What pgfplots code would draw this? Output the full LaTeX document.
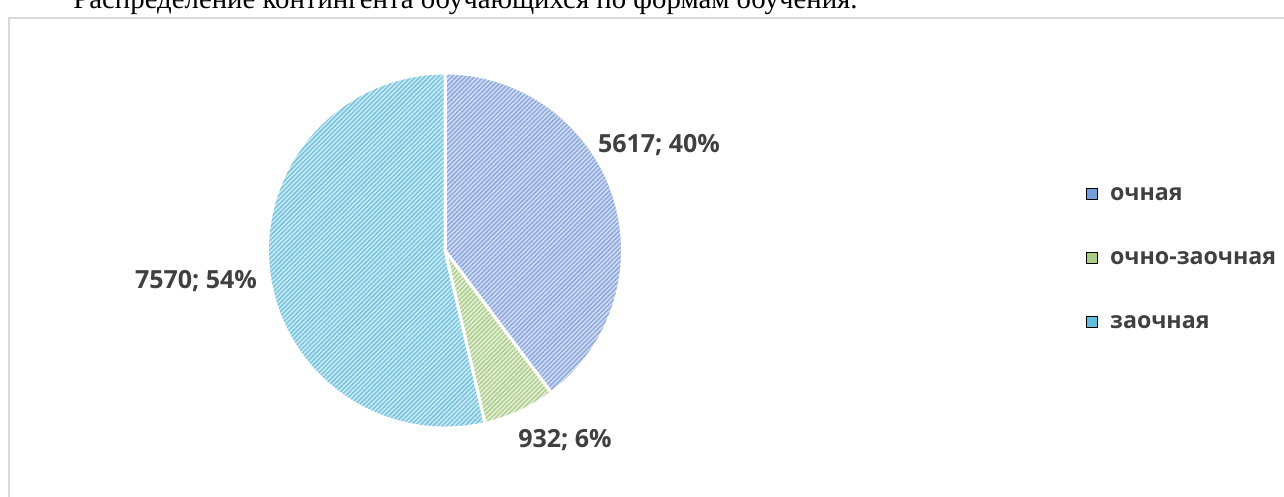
\documentclass[border=0pt]{standalone}
\usepackage{fontspec}
\setmainfont{Open Sans}
\newfontfamily\titlefont{Liberation Serif}
\usepackage{pgfplots}
\pgfplotsset{compat=1.18}
\usepackage{pgfplotstable}
\usetikzlibrary{patterns.meta}

\definecolor{bluebg}{HTML}{D0DCF3}
\definecolor{blueln}{HTML}{90AADB}
\definecolor{greenbg}{HTML}{E4EFD8}
\definecolor{greenln}{HTML}{AECF8F}
\definecolor{cyanbg}{HTML}{CAEAF4}
\definecolor{cyanln}{HTML}{78C5DD}
\definecolor{legblue}{HTML}{759FDA}
\definecolor{leggreen}{HTML}{A9CD82}
\definecolor{legcyan}{HTML}{62BFDC}
\definecolor{labelgray}{HTML}{404040}
\definecolor{framegray}{HTML}{D9D9D9}

\pgfplotstableread{
id value
1 5617
2 932
3 7570
}\pietable

\begin{document}
\begin{tikzpicture}
\useasboundingbox (0,0) rectangle (642pt,248.5pt);
\clip (0,0) rectangle (642pt,248.5pt);
\pgfplotstablegetelem{0}{value}\of\pietable\pgfmathsetmacro\va{\pgfplotsretval/1000}
\pgfplotstablegetelem{1}{value}\of\pietable\pgfmathsetmacro\vb{\pgfplotsretval/1000}
\pgfplotstablegetelem{2}{value}\of\pietable\pgfmathsetmacro\vc{\pgfplotsretval/1000}
\pgfmathsetmacro\tot{\va+\vb+\vc}
\pgfmathsetmacro\aA{90}
\pgfmathsetmacro\aB{90-360*(\va/\tot)}
\pgfmathsetmacro\aC{\aB-360*(\vb/\tot)}
\pgfmathsetmacro\aD{-270}
\begin{axis}[
  x=0.5pt, y=0.5pt,
  xmin=0, xmax=1284, ymin=0, ymax=497,
  hide axis, clip=false,
  at={(0,0)}, anchor=south west,
  legend image code/.code={\fill[#1] (0pt,-2.75pt) rectangle (5.5pt,2.75pt);},
  legend style={at={(axis cs:1086,497-177)}, anchor=north west, draw=none, fill=none,
    font=\bfseries\fontsize{11.6}{14}\selectfont, text=labelgray,
    row sep=15pt, inner sep=0pt,
    nodes={inner sep=2.5pt, text height=9pt, text depth=3pt},
    /tikz/every odd column/.append style={column sep=3.5pt}},
  legend cell align=left,
]
\addlegendimage{fill=legblue}
\addlegendentry{очная}
\addlegendimage{fill=leggreen}
\addlegendentry{очно-заочная}
\addlegendimage{fill=legcyan}
\addlegendentry{заочная}

% frame
\draw[framegray, line width=1pt] (axis cs:9,-20) -- (axis cs:9,497-18) -- (axis cs:1300,497-18);
% title (partly cut off, as in the reference)
\node[anchor=base west, inner sep=0pt, font=\titlefont\fontsize{14.4}{16}\selectfont] at (axis cs:73,497-9) {Распределение контингента обучающихся по формам обучения.};

% pie slices
\path[preaction={fill=bluebg}, preaction={pattern={Lines[angle=45,distance=1.6pt,line width=0.75pt]}, pattern color=blueln}, draw=white, line width=1.5pt]
  (axis cs:445,246.5) -- ++(\aA:88.75pt) arc[start angle=\aA, end angle=\aB, radius=88.75pt] -- cycle;
\path[preaction={fill=greenbg}, preaction={pattern={Lines[angle=45,distance=1.6pt,line width=0.75pt]}, pattern color=greenln}, draw=white, line width=1.5pt]
  (axis cs:445,246.5) -- ++(\aB:88.75pt) arc[start angle=\aB, end angle=\aC, radius=88.75pt] -- cycle;
\path[preaction={fill=cyanbg}, preaction={pattern={Lines[angle=45,distance=1.6pt,line width=0.75pt]}, pattern color=cyanln}, draw=white, line width=1.5pt]
  (axis cs:445,246.5) -- ++(\aC:88.75pt) arc[start angle=\aC, end angle=\aD, radius=88.75pt] -- cycle;

% data labels
\node[font=\bfseries\fontsize{12.5}{14}\selectfont, text=labelgray] at (axis cs:659,497-145) {5617; 40\%};
\node[font=\bfseries\fontsize{12.5}{14}\selectfont, text=labelgray] at (axis cs:565,497-440) {932; 6\%};
\node[font=\bfseries\fontsize{12.5}{14}\selectfont, text=labelgray] at (axis cs:196,497-281) {7570; 54\%};
\end{axis}
\end{tikzpicture}
\end{document}
